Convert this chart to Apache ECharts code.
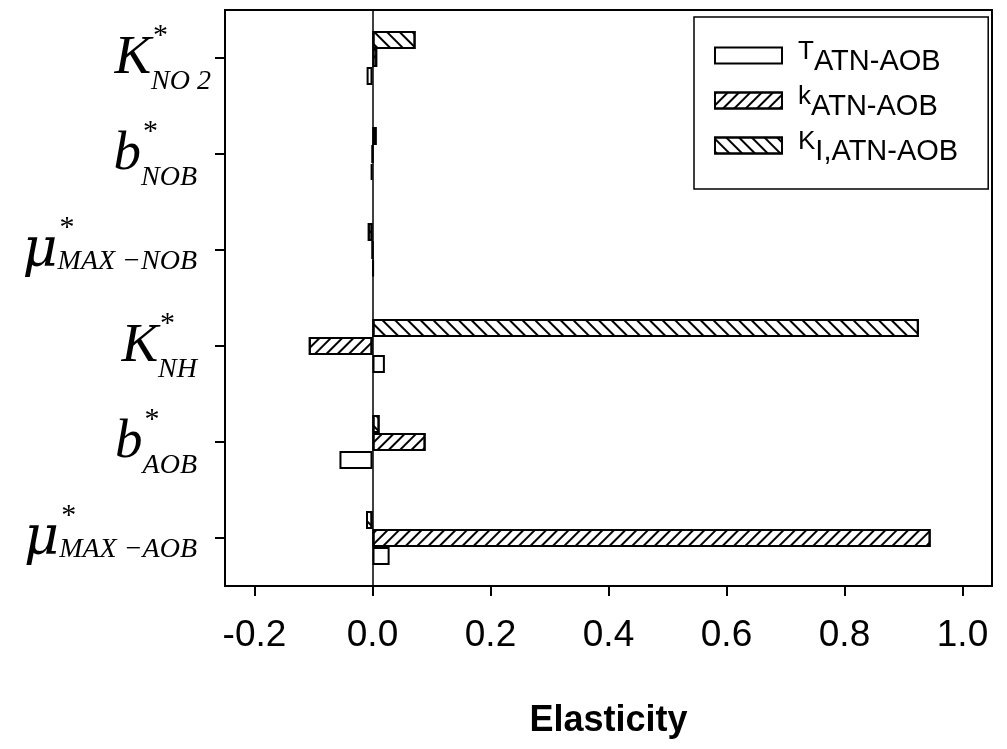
<!DOCTYPE html>
<html><head><meta charset="utf-8">
<script src="https://cdn.jsdelivr.net/npm/echarts@6/dist/echarts.min.js"></script>
<style>html,body{margin:0;padding:0;background:#fff}#c{width:1007px;height:749px}</style>
</head><body><div id="c"></div>
<script>
// ---- data ----
const categories = ['K_NO2', 'b_NOB', 'mu_MAX-NOB', 'K_NH', 'b_AOB', 'mu_MAX-AOB'];
const categoryMain = ['K', 'b', 'μ', 'K', 'b', 'μ'];
const categorySub = ['NO 2', 'NOB', 'MAX −NOB', 'NH', 'AOB', 'MAX −AOB'];
const seriesNames = ['T_ATN-AOB', 'k_ATN-AOB', 'K_I,ATN-AOB'];
const legendMain = ['T', 'k', 'K'];
const legendSub = ['ATN-AOB', 'ATN-AOB', 'I,ATN-AOB'];
const valuesT  = [-0.010, -0.003, 0.002, 0.021, -0.056, 0.029];
const valuesk  = [0.008, 0.000, 0.000, -0.108, 0.090, 0.946];
const valuesKI = [0.073, 0.007, -0.008, 0.926, 0.012, -0.011];
const xTicks = [-0.2, 0.0, 0.2, 0.4, 0.6, 0.8, 1.0];

// ---- text measuring for label layout ----
const ctx = document.createElement('canvas').getContext('2d');
function textWidth(font, s) { ctx.font = font; return ctx.measureText(s).width; }
const SERIF = 'Liberation Serif';
const SUB_SIZE = 28, MAIN_SIZE = 55, MU_SIZE = 54, STAR_SIZE = 30;

const yRich = {
  K: { fontFamily: SERIF, fontStyle: 'italic', fontSize: MAIN_SIZE, lineHeight: 40, padding: [0, 0, 18, 0], align: 'right', color: '#000' },
  M: { fontFamily: 'DejaVu Serif', fontStyle: 'italic', fontSize: MU_SIZE, lineHeight: 40, padding: [0, 0, 16, 0], align: 'right', color: '#000' }
};
const starW = textWidth(STAR_SIZE + 'px "' + SERIF + '"', '*');
categories.forEach((c, i) => {
  const padR = i === 0 ? 0 : 14;
  const isMu = categoryMain[i] === 'μ';
  const wSub = textWidth('italic ' + SUB_SIZE + 'px "' + SERIF + '"', categorySub[i]);
  yRich['s' + i] = { fontFamily: SERIF, fontStyle: 'italic', fontSize: SUB_SIZE, lineHeight: 40, padding: [isMu ? 4 : 28, padR, 0, 0], align: 'right', color: '#000' };
  yRich['st' + i] = { fontFamily: SERIF, fontSize: STAR_SIZE, lineHeight: 20, padding: [0, Math.max(0, padR + wSub - starW - 2), 4, 0], align: 'right', color: '#000' };
});

const legendRich = {
  m: { fontFamily: 'Liberation Sans', fontSize: 26, lineHeight: 26, padding: [0, 0, 7, 0], color: '#000' },
  s: { fontFamily: 'Liberation Sans', fontSize: 29, lineHeight: 20, padding: [13, 0, 0, 0], color: '#000' }
};

function barStyle(decal) {
  const st = { color: '#fff', borderColor: '#000', borderWidth: 2 };
  if (decal) st.decal = decal;
  return st;
}
const decalBack = { symbol: 'rect', symbolSize: 1, dashArrayX: [1, 0], dashArrayY: [1.8, 6.6], rotation: Math.PI / 4, color: '#000' };
const decalFwd  = { symbol: 'rect', symbolSize: 1, dashArrayX: [1, 0], dashArrayY: [1.8, 5.4], rotation: -Math.PI / 4, color: '#000' };

const chart = echarts.init(document.getElementById('c'), null, { renderer: 'canvas' });
chart.setOption({
  animation: false,
  backgroundColor: '#fff',
  grid: { left: 225, right: 15, top: 10, bottom: 163, show: true, borderColor: '#000', borderWidth: 2, backgroundColor: 'transparent' },
  legend: {
    orient: 'vertical', left: 694, top: 17,
    data: seriesNames,
    itemWidth: 67, itemHeight: 16, itemGap: 3,
    padding: [17.5, 30, 22.5, 20],
    borderColor: '#000', borderWidth: 1.5,
    icon: 'rect',
    formatter: name => { const i = seriesNames.indexOf(name); return '{m|' + legendMain[i] + '}{s|' + legendSub[i] + '}'; },
    textStyle: { padding: [0, 0, 0, 11], rich: legendRich }
  },
  xAxis: {
    type: 'value', min: -0.25, max: 1.05,
    axisLine: { show: true, lineStyle: { color: '#000', width: 2 } },
    axisTick: { show: true, length: 10, customValues: xTicks, lineStyle: { color: '#000', width: 2 } },
    axisLabel: { customValues: xTicks, formatter: v => v.toFixed(1), fontSize: 37, fontFamily: 'Liberation Sans', color: '#000', margin: 31 },
    splitLine: { show: false },
    name: 'Elasticity', nameLocation: 'middle', nameGap: 117,
    nameTextStyle: { fontSize: 36, fontWeight: 'bold', fontFamily: 'Liberation Sans', color: '#000' }
  },
  yAxis: {
    type: 'category', data: categories, inverse: true,
    axisLine: { show: true, onZero: false, lineStyle: { color: '#000', width: 2 } },
    axisTick: { show: true, length: 10, alignWithLabel: true, lineStyle: { color: '#000', width: 2 } },
    axisLabel: {
      interval: 0, margin: 14,
      formatter: (v, i) => '{st' + i + '|*}\n{' + (categoryMain[i] === 'μ' ? 'M' : 'K') + '|' + categoryMain[i] + '}{s' + i + '|' + categorySub[i] + '}',
      rich: yRich
    },
    splitLine: { show: false }
  },
  series: [
    { name: seriesNames[2], type: 'bar', data: valuesKI, barWidth: 18, barGap: '0%', itemStyle: barStyle(decalBack) },
    { name: seriesNames[1], type: 'bar', data: valuesk, barWidth: 18, barGap: '0%', itemStyle: barStyle(decalFwd) },
    { name: seriesNames[0], type: 'bar', data: valuesT, barWidth: 18, barGap: '0%', itemStyle: barStyle(null),
      markLine: { silent: true, symbol: ['none', 'none'], label: { show: false }, lineStyle: { color: '#000', width: 1.5, type: 'solid' }, data: [{ xAxis: 0 }] } }
  ]
});
</script></body></html>
